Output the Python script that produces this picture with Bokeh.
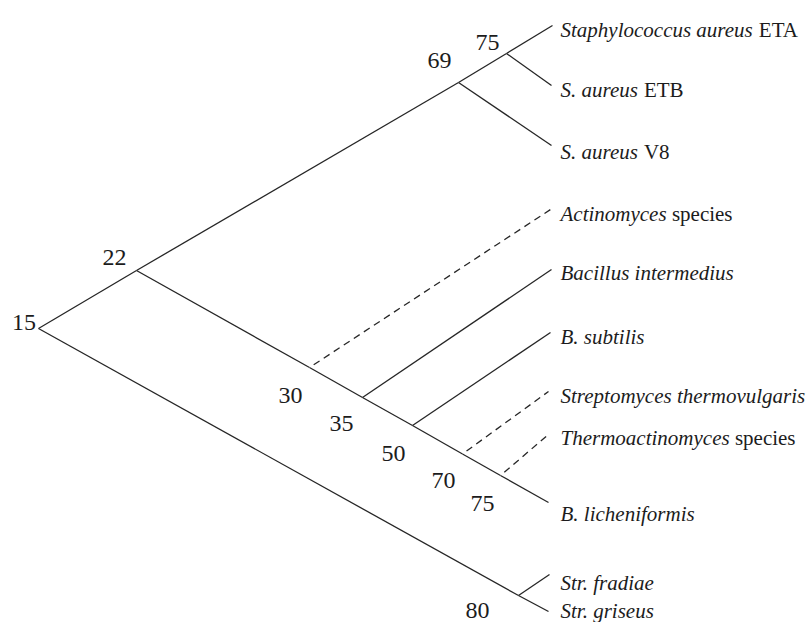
from bokeh.plotting import figure
from bokeh.models import Range1d, ColumnDataSource
from bokeh.core.properties import value
from bokeh.embed import file_html
from bokeh.resources import INLINE

# ---------------- data: taxa, similarity values, topology ----------------
leaf_ids = ["ETA", "ETB", "V8", "Act", "Bint", "Bsub", "Sthe", "Thact", "Blic", "Sfra", "Sgri"]
leaf_italic = ["Staphylococcus aureus", "S. aureus", "S. aureus", "Actinomyces",
               "Bacillus intermedius", "B. subtilis", "Streptomyces thermovulgaris",
               "Thermoactinomyces", "B. licheniformis", "Str. fradiae", "Str. griseus"]
leaf_regular = ["ETA", "ETB", "V8", "species", "", "", "", "species", "", "", ""]

inner_ids = ["root", "n22", "n69", "n75a", "n30", "n35", "n50", "n70", "n75b", "n80"]
similarity = [15, 22, 69, 75, 30, 35, 50, 70, 75, 80]

edge_parent = ["root", "n22", "n69", "n75a", "n75a", "n69", "n22", "n30", "n35", "n50",
               "n70", "n75b", "n30", "n35", "n50", "n70", "n75b", "root", "n80", "n80"]
edge_child = ["n22", "n69", "n75a", "ETA", "ETB", "V8", "n30", "n35", "n50", "n70",
              "n75b", "Blic", "Act", "Bint", "Bsub", "Sthe", "Thact", "n80", "Sgri", "Sfra"]
dashed_children = ["Act", "Sthe", "Thact"]

# ---------------- layout of the drawing (drawing units, y downward) ----------------
inner_x = [38, 136, 458, 506, 309, 362, 412, 462, 500, 518]
inner_y = [328, 270, 82, 53, 367, 397, 425, 453.5, 475, 595]
leaf_x = [552, 551, 551, 550, 551, 550, 548, 548, 548, 549, 548]
leaf_y = [25, 85, 145, 209, 269, 332, 391, 434, 502, 574, 611]
num_label_x = [23.5, 114, 439, 487, 290, 341, 393, 443, 482, 477]
num_label_y = [322, 257, 60, 42, 395, 423, 453, 480, 503, 610]
leaf_text_x = 560
leaf_text_y = [29, 89, 151, 213, 272, 336, 395, 437, 513, 582, 610]

LABEL_PX = 21
NUM_PX = 24
# Times New Roman Italic advance widths (per 1000 em) for offsetting the upright suffix
TNR_ITALIC = {"S": 500, "t": 278, "a": 500, "p": 500, "h": 500, "y": 444, "l": 278,
              "o": 500, "c": 444, "u": 500, "s": 389, " ": 250, "r": 389, "e": 444,
              ".": 250, "A": 611, "i": 278, "n": 500, "m": 722, "T": 556}


def italic_width(s):
    return sum(TNR_ITALIC.get(ch, 500) for ch in s) / 1000.0 * LABEL_PX


pos = {}
for nid, x, y in zip(inner_ids, inner_x, inner_y):
    pos[nid] = (x, y)
for nid, x, y in zip(leaf_ids, leaf_x, leaf_y):
    pos[nid] = (x, y)

solid = dict(x0=[], y0=[], x1=[], y1=[])
dashed = dict(x0=[], y0=[], x1=[], y1=[])
for pa, ch in zip(edge_parent, edge_child):
    d = dashed if ch in dashed_children else solid
    d["x0"].append(pos[pa][0]); d["y0"].append(pos[pa][1])
    d["x1"].append(pos[ch][0]); d["y1"].append(pos[ch][1])

p = figure(width=811, height=622, output_backend="svg", toolbar_location=None,
           x_range=Range1d(0, 811), y_range=Range1d(622, 0),
           min_border=0, outline_line_color=None, background_fill_color="white",
           border_fill_color="white")
p.axis.visible = False
p.grid.visible = False

LINE = "#262626"
p.segment("x0", "y0", "x1", "y1", source=ColumnDataSource(solid),
          line_color=LINE, line_width=1.3)
p.segment("x0", "y0", "x1", "y1", source=ColumnDataSource(dashed),
          line_color=LINE, line_width=1.3, line_dash="7 5", line_dash_offset=7)

FONT = value("Liberation Serif")
# similarity values at the nodes
p.text(x=num_label_x, y=num_label_y, text=[str(v) for v in similarity],
       text_font=FONT, text_font_size=f"{NUM_PX}px",
       text_align="center", text_baseline="alphabetic", text_color="#1c1c1c")

# leaf names: italic part + upright suffix
p.text(x=[leaf_text_x] * len(leaf_ids), y=leaf_text_y, text=leaf_italic,
       text_font=FONT, text_font_size=f"{LABEL_PX}px",
       text_font_style="italic", text_align="left", text_baseline="alphabetic",
       text_color="#1c1c1c")
reg_x, reg_y, reg_t = [], [], []
for it, rg, y in zip(leaf_italic, leaf_regular, leaf_text_y):
    if rg:
        reg_x.append(leaf_text_x + italic_width(it + " "))
        reg_y.append(y)
        reg_t.append(rg)
p.text(x=reg_x, y=reg_y, text=reg_t,
       text_font=FONT, text_font_size=f"{LABEL_PX}px",
       text_align="left", text_baseline="alphabetic", text_color="#1c1c1c")

open("out.html", "w").write(file_html(p, INLINE))
